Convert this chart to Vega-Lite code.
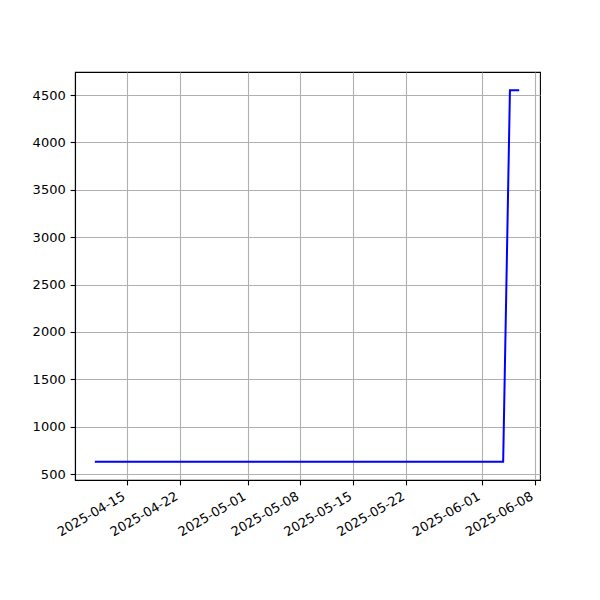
{
  "$schema": "https://vega.github.io/schema/vega-lite/v6.json",
  "width": 465,
  "height": 408,
  "autosize": "none",
  "padding": {"left": 75, "top": 72, "right": 60, "bottom": 120},
  "background": "white",
  "config": {
    "view": {"stroke": "black", "strokeWidth": 1.1},
    "axis": {
      "labelFont": "DejaVu Sans",
      "labelFontSize": 13,
      "labelColor": "black",
      "domainColor": "black",
      "domainWidth": 1.1,
      "tickColor": "black",
      "tickWidth": 1.1,
      "tickSize": 4.9,
      "labelPadding": 4.9,
      "gridColor": "#b0b0b0",
      "gridWidth": 1.1,
      "gridOpacity": 1,
      "title": null
    }
  },
  "data": {
    "values": [
      {"date": "2025-04-10T19:00:00Z", "value": 630},
      {"date": "2025-06-03T20:00:00Z", "value": 630},
      {"date": "2025-06-04T17:30:00Z", "value": 4550},
      {"date": "2025-06-05T23:00:00Z", "value": 4550}
    ]
  },
  "mark": {"type": "line", "color": "#0000ff", "strokeWidth": 2, "clip": true},
  "encoding": {
    "x": {
      "field": "date",
      "type": "temporal",
      "scale": {"type": "utc", "domain": [{"year": 2025, "month": 4, "date": 8, "hours": 4, "utc": true}, {"year": 2025, "month": 6, "date": 8, "hours": 17, "utc": true}], "nice": false},
      "axis": {
        "values": [
          {"year": 2025, "month": 4, "date": 15, "utc": true},
          {"year": 2025, "month": 4, "date": 22, "utc": true},
          {"year": 2025, "month": 5, "date": 1, "utc": true},
          {"year": 2025, "month": 5, "date": 8, "utc": true},
          {"year": 2025, "month": 5, "date": 15, "utc": true},
          {"year": 2025, "month": 5, "date": 22, "utc": true},
          {"year": 2025, "month": 6, "date": 1, "utc": true},
          {"year": 2025, "month": 6, "date": 8, "utc": true}
        ],
        "labelExpr": "utcFormat(datum.value, '%Y-%m-%d')",
        "labelAngle": -30,
        "labelAlign": "right",
        "labelBaseline": "top",
        "labelOffset": -6,
        "labelOverlap": false,
        "labelFlush": false,
        "grid": true
      }
    },
    "y": {
      "field": "value",
      "type": "quantitative",
      "scale": {"domain": [437, 4743], "nice": false, "zero": false},
      "axis": {
        "values": [500, 1000, 1500, 2000, 2500, 3000, 3500, 4000, 4500],
        "format": "d",
        "grid": true,
        "labelOverlap": false,
        "labelFlush": false
      }
    }
  }
}
